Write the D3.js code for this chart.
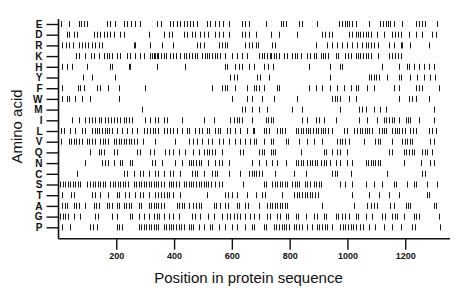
<!DOCTYPE html>
<html>
<head>
<meta charset="utf-8">
<script src="https://cdn.jsdelivr.net/npm/d3@7"></script>
<style>
  body { margin: 0; background: #fff; }
  svg text { font-family: "Liberation Sans", Arial, sans-serif; fill: #111; }
</style>
</head>
<body>
<script>
// amino acids, top to bottom
var aminoAcids = ["E","D","R","K","H","Y","F","W","M","I","L","V","Q","N","C","S","T","A","G","P"];
var xTicks = [200, 400, 600, 800, 1000, 1200];
var seqLength = 1355;

// positions of each residue in the sequence
var posE = [10,35,70,77,87,99,168,179,194,225,237,252,266,283,341,356,387,398,410,421,433,444,456,467,479,514,525,542,554,571,589,635,646,658,717,769,778,786,832,844,895,970,982,991,999,1007,1016,1028,1074,1114,1123,1132,1141,1149,1161,1189,1236,1247,1259,1270,1310];
var posD = [29,35,52,64,122,133,145,156,168,179,191,214,225,312,364,381,393,433,444,462,473,491,502,519,542,554,571,589,635,646,658,682,734,763,826,913,924,936,947,1005,1017,1028,1037,1045,1055,1063,1072,1080,1103,1126,1155,1164,1174,1184,1213,1236,1259,1293,1305];
var posR = [12,26,37,49,70,81,90,102,116,127,139,150,260,266,318,358,398,479,491,502,554,565,577,583,646,658,669,682,691,740,749,890,930,947,965,982,999,1016,1034,1051,1063,1072,1081,1091,1106,1143,1161,1184,1189,1218,1282];
var posK = [60,72,93,114,123,141,156,168,176,185,202,214,237,248,266,283,295,318,323,329,335,341,346,356,364,372,387,398,406,421,433,441,450,462,471,479,496,506,514,522,531,540,548,560,577,600,617,635,652,694,703,711,722,731,737,746,754,763,780,792,809,818,826,838,861,872,884,892,907,915,924,933,959,968,993,1003,1011,1028,1037,1045,1055,1063,1072,1080,1106,1143,1153,1166,1176,1184];
var posH = [12,29,47,99,179,185,243,248,341,439,577,583,612,623,635,658,676,711,726,742,867,941,973,982,1120,1178,1207,1212,1230,1247,1264,1282,1299];
var posY = [84,116,197,594,606,617,688,696,728,941,1074,1083,1091,1100,1109,1138,1178,1187,1218,1241,1264,1287,1302];
var posF = [12,67,75,87,133,145,173,208,300,531,565,575,583,612,652,676,684,694,711,757,763,867,890,913,938,965,988,1011,1028,1037,1068,1091,1161,1178,1236,1247,1259,1316];
var posW = [12,29,37,58,81,110,208,600,652,669,705,746,826,947,956,965,976,1005,1028,1178,1213,1222,1236,1282];
var posM = [289,635,646,669,694,722,809,844,976,1040,1051,1063,1091,1114,1132,1299];
var posI = [47,70,93,104,116,127,139,148,162,173,183,191,202,214,225,235,245,254,300,318,335,346,364,375,427,502,537,594,606,617,625,635,669,717,726,734,742,844,861,890,901,918,959,1040,1068,1103,1126,1134,1143,1153,1161,1178,1201,1210,1218,1247,1299];
var posL = [10,18,41,58,81,90,116,125,133,141,150,160,168,176,185,202,220,237,254,271,295,306,318,326,335,346,364,375,387,398,410,427,444,452,473,485,496,514,522,542,552,560,583,594,612,629,652,672,676,711,719,728,757,765,774,784,821,830,838,846,855,864,872,880,890,899,907,915,924,933,947,988,999,1022,1034,1042,1051,1060,1068,1076,1086,1109,1118,1126,1134,1155,1164,1172,1180,1189,1199,1218,1226,1236,1282,1293,1305];
var posV = [10,35,44,52,60,70,81,99,107,116,125,145,153,162,173,191,199,208,217,225,233,243,252,260,271,291,335,404,450,467,479,496,519,531,554,571,589,612,629,646,663,676,682,711,734,742,786,795,832,861,884,913,965,973,982,993,1005,1057,1097,1106,1114,1155,1189,1199,1207,1215,1224,1287,1299];
var posQ = [110,139,148,156,191,202,271,283,318,329,370,381,395,416,439,467,485,502,514,522,531,540,565,629,640,694,703,711,734,742,751,838,918,927,947,965,973,999,1143,1153,1195,1203,1212,1222,1230,1259,1268,1276,1293];
var posN = [93,150,160,173,191,214,220,248,256,323,333,358,404,427,450,459,467,476,485,494,519,542,554,565,589,669,694,717,740,757,786,821,830,838,846,861,869,878,887,895,907,918,927,941,959,976,999,1016,1063,1072,1080,1088,1097,1106,1114,1195,1253,1287,1299];
var posC = [64,225,237,260,283,291,312,335,346,364,387,395,421,462,471,479,502,531,540,548,589,629,658,669,676,684,694,703,751,815,855,947,956,965,1011,1138,1259,1268];
var posS = [6,14,24,33,41,49,58,67,75,99,110,118,127,137,145,153,162,179,187,197,206,214,222,231,240,260,268,277,286,295,303,312,321,329,337,346,356,364,381,390,398,406,416,433,441,450,459,467,476,485,494,502,510,519,529,542,554,565,640,711,719,740,749,757,765,774,784,792,809,818,826,834,853,861,869,884,892,901,910,976,993,1016,1063,1091,1120,1161,1169,1207,1230,1238,1276,1310];
var posT = [12,44,52,116,125,145,173,202,210,231,245,266,283,291,312,335,344,356,364,375,383,398,421,514,577,586,600,617,652,682,705,714,774,815,826,834,844,853,861,869,878,887,899,1016,1074,1109,1143,1178,1276,1284];
var posA = [12,21,29,52,60,70,93,122,130,139,168,176,185,202,210,225,233,243,252,277,286,312,321,329,337,346,356,364,410,418,427,436,450,467,476,485,494,537,545,560,577,586,617,625,646,655,694,722,731,740,749,757,765,774,784,792,913,1022,1068,1080,1091,1103,1149,1161,1201,1210,1218,1299,1307];
var posG = [6,14,24,33,52,75,127,137,185,202,248,256,277,295,312,329,341,349,364,381,398,416,462,471,491,519,537,565,583,594,606,617,629,646,663,676,694,722,731,757,765,786,795,821,830,855,884,895,918,927,959,968,982,991,1005,1028,1037,1063,1086,1120,1130,1155,1164,1172,1195,1230,1238,1247,1316];
var posP = [12,41,110,118,133,202,210,220,277,286,295,303,312,321,329,337,346,364,372,381,390,398,406,416,425,433,450,459,467,485,502,525,533,554,577,600,617,646,669,676,711,719,746,754,763,772,780,788,797,815,823,832,844,861,878,895,903,913,922,930,947,976,984,993,1003,1011,1019,1028,1045,1053,1074,1097,1126,1155,1184,1224,1233,1322];

var positions = [posE,posD,posR,posK,posH,posY,posF,posW,posM,posI,posL,posV,posQ,posN,posC,posS,posT,posA,posG,posP];

var width = 460, height = 299;

var svg = d3.select("body").append("svg")
    .attr("width", width)
    .attr("height", height);

var xScale = d3.scaleLinear()
    .domain([0, seqLength])
    .range([58.5, 450]);

var yScale = d3.scalePoint()
    .domain(aminoAcids)
    .range([24, 227.3]);

// residue marks
var rows = svg.append("g").attr("class", "marks")
  .selectAll("g")
  .data(aminoAcids)
  .enter().append("g");

rows.selectAll("line")
    .data(function(d, i) { return positions[i].map(function(p) { return {aa: d, p: p}; }); })
    .enter().append("line")
      .attr("x1", function(d) { return Math.round(xScale(d.p)) + 0.5; })
      .attr("x2", function(d) { return Math.round(xScale(d.p)) + 0.5; })
      .attr("y1", function(d) { return yScale(d.aa) - 3; })
      .attr("y2", function(d) { return yScale(d.aa) + 3; })
      .attr("stroke", "#1a1a1a")
      .attr("stroke-width", 1);

// axes
var xAxis = svg.append("g")
    .attr("transform", "translate(0,238.7)")
    .call(d3.axisBottom(xScale).tickValues(xTicks).tickFormat(d3.format("d"))
      .tickSize(11).tickPadding(3));

var yAxis = svg.append("g")
    .attr("transform", "translate(58.5,0)")
    .call(d3.axisLeft(yScale).tickSize(12).tickPadding(4));

[xAxis, yAxis].forEach(function(a) {
  a.select(".domain").attr("stroke", "#111").attr("stroke-width", 1.6);
  a.selectAll(".tick line").attr("stroke", "#111").attr("stroke-width", 1.4);
  a.selectAll("text").attr("fill", "#111").attr("font-family", "'Liberation Sans', Arial, sans-serif");
});
xAxis.select(".domain").attr("d", "M58.5,0H450");
yAxis.select(".domain").attr("d", "M0,19V238.7");

xAxis.selectAll("text").attr("font-size", 9).attr("font-weight", "bold");
yAxis.selectAll("text").attr("font-size", 10).attr("font-weight", "bold");

// titles
svg.append("text")
    .text("Position in protein sequence")
    .attr("text-anchor", "middle")
    .attr("x", 248.5)
    .attr("y", 283)
    .attr("font-size", 15);

svg.append("text")
    .text("Amino acid")
    .attr("text-anchor", "middle")
    .attr("transform", "translate(22,126.5) rotate(-90)")
    .attr("font-size", 15);
</script>
</body>
</html>
